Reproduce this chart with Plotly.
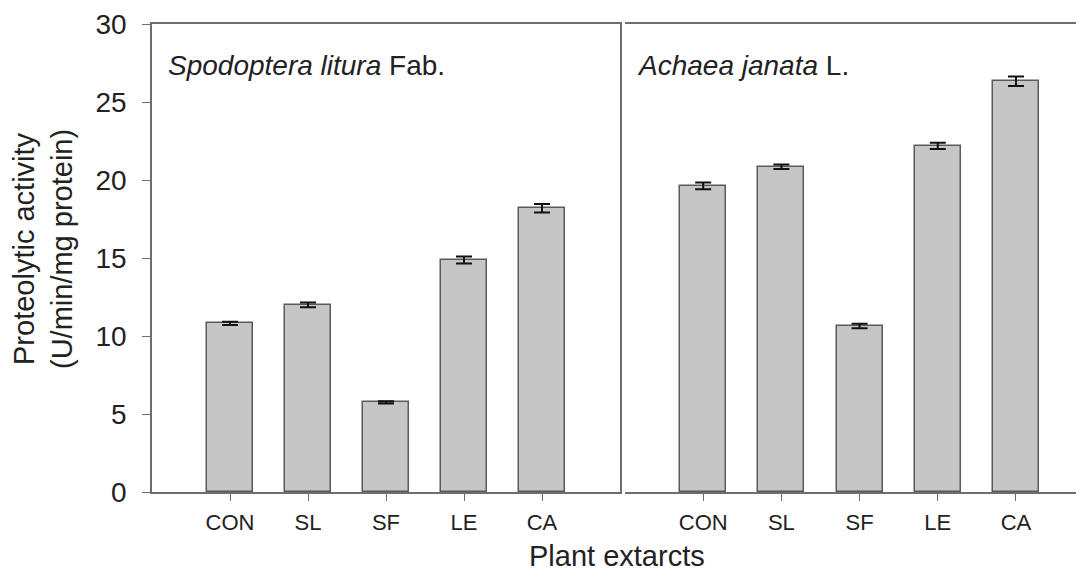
import plotly.graph_objects as go

categories = ["CON", "SL", "SF", "LE", "CA"]
litura_values = [10.81, 11.99, 5.75, 14.87, 18.19]
litura_errors = [0.10, 0.15, 0.07, 0.22, 0.27]
janata_values = [19.62, 20.85, 10.64, 22.18, 26.33]
janata_errors = [0.22, 0.15, 0.15, 0.20, 0.30]
y_ticks = [0, 5, 10, 15, 20, 25, 30]

OFF = 8  # browser default body margin
W, H = 1084 - OFF, 581 - OFF
# target plot box in screenshot pixels
PX0, PX1, PY0, PY1 = 152, 1084, 24, 492
L, T = PX0 - OFF, PY0 - OFF
R = W - (PX1 - OFF)
B = H - (PY1 - OFF)
plot_w = W - L - R
plot_h = H - T - B

def px(x):
    return (x - PX0) / plot_w

def py(y):
    return (PY1 - y) / plot_h

dom1 = [0, px(620)]
dom2 = [px(625), 1]

bar_style = dict(color="#c6c6c6", line=dict(color="#5a5a5a", width=1.5))
err_style = lambda e: dict(type="data", array=e, visible=True, color="#111111", thickness=2, width=8)

fig = go.Figure()
fig.add_trace(go.Bar(x=categories, y=litura_values, error_y=err_style(litura_errors),
                     marker=bar_style, width=0.59, xaxis="x", yaxis="y", showlegend=False))
fig.add_trace(go.Bar(x=categories, y=janata_values, error_y=err_style(janata_errors),
                     marker=bar_style, width=0.59, xaxis="x2", yaxis="y2", showlegend=False))

FAM = "Liberation Sans, Arial"
axis_font = dict(family=FAM, size=22, color="#222222")
line_col = "#6e6e6e"

fig.update_layout(
    width=W, height=H,
    margin=dict(l=L, r=R, t=T, b=B, autoexpand=False),
    paper_bgcolor="white", plot_bgcolor="white",
    bargap=0,
    xaxis=dict(domain=dom1, type="category", range=[-1, 5], showline=True, linecolor=line_col,
               linewidth=1.5, mirror=True, ticks="outside", ticklen=7, tickcolor=line_col,
               tickfont=axis_font, ticklabelstandoff=3, showgrid=False, zeroline=False,
               automargin=False),
    xaxis2=dict(domain=dom2, type="category", range=[-1, 4.87], showline=True, linecolor=line_col,
                linewidth=1.5, mirror=True, ticks="outside", ticklen=7, tickcolor=line_col,
                tickfont=axis_font, ticklabelstandoff=3, showgrid=False, zeroline=False, anchor="y2",
                automargin=False),
    yaxis=dict(range=[0, 30], tickvals=y_ticks, showline=True, linecolor=line_col, linewidth=1.5,
               mirror=True, ticks="outside", ticklen=8, tickcolor=line_col,
               tickfont=dict(family=FAM, size=28, color="#222222"),
               ticklabelstandoff=10, showgrid=False, zeroline=False, automargin=False),
    yaxis2=dict(range=[0, 30], anchor="x2", showline=False, showticklabels=False, ticks="",
                showgrid=False, zeroline=False, automargin=False),
    font=dict(family=FAM, color="#222222"),
)

fig.add_annotation(text="Proteolytic activity<br>(U/min/mg protein)", textangle=-90,
                   xref="paper", yref="paper", x=px(43), y=py(249),
                   xanchor="center", yanchor="middle",
                   showarrow=False, font=dict(size=29, color="#222222", family=FAM))
fig.add_annotation(text="Plant extarcts", xref="paper", yref="paper", x=px(617), y=py(556),
                   xanchor="center", yanchor="middle", showarrow=False,
                   font=dict(size=29, color="#222222", family=FAM))
fig.add_annotation(text="<i>Spodoptera litura</i> Fab.", xref="paper", yref="paper",
                   x=px(166), y=py(65), xanchor="left", yanchor="middle",
                   showarrow=False, font=dict(size=28, color="#222222", family=FAM))
fig.add_annotation(text="<i>Achaea janata</i> L.", xref="paper", yref="paper",
                   x=px(635), y=py(65), xanchor="left", yanchor="middle",
                   showarrow=False, font=dict(size=28, color="#222222", family=FAM))

fig.write_html("out.html")
